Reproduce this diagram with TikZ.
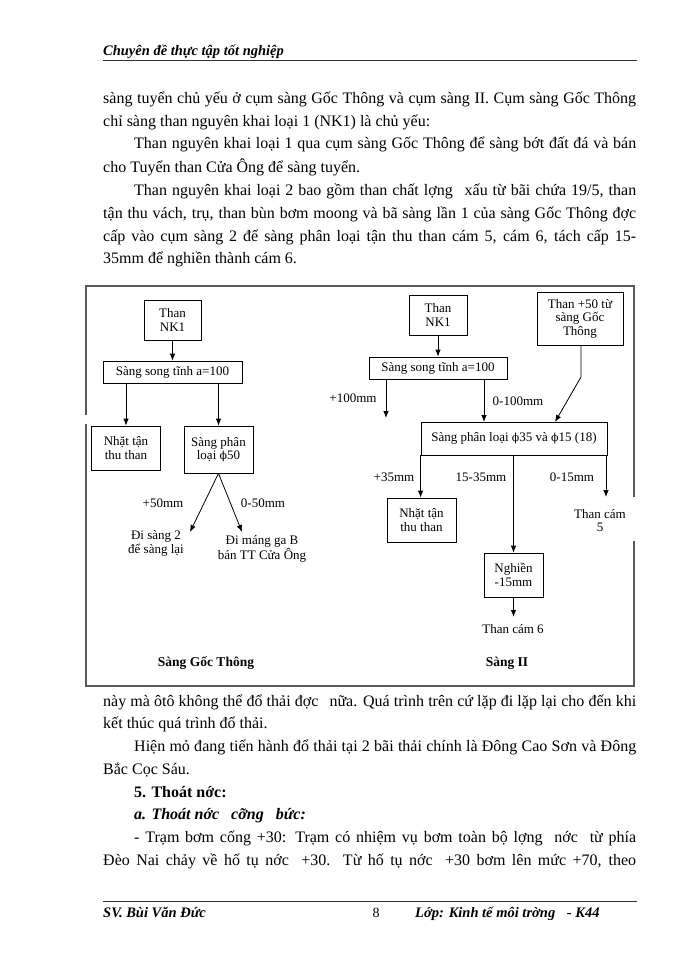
\documentclass[tikz,border=0pt]{standalone}
\usepackage{fontspec}
\setmainfont{Liberation Serif}
\newfontfamily\myphifont{DejaVu Serif}
\usetikzlibrary{arrows.meta}
\newcommand\mydiagfont{\fontsize{13}{13.5}\selectfont}
\newcommand\mybodyfont{\fontsize{16}{23}\selectfont}
\newcommand\myheadfont{\fontsize{14.5}{16}\selectfont\bfseries\itshape}
\newcommand\myphi{{\myphifont\fontsize{11}{12}\selectfont ϕ}}
\begin{document}
\begin{tikzpicture}[x=1pt,y=-1pt,
  box/.style={draw, line width=0.8pt, inner sep=0pt, align=center, font=\mydiagfont},
  lbl/.style={inner sep=0pt, align=center, font=\mydiagfont},
  arr/.style={line width=0.8pt, -{Latex[length=7pt,width=5.5pt]}},
  ln/.style={line width=0.8pt},
  framel/.style={line width=1.3pt, draw=black!65},
  body/.style={anchor=base west, inner sep=0pt, font=\mybodyfont},
  rule/.style={line width=0.9pt, draw=black!80},
]
\useasboundingbox[fill=white] (0,0) rectangle (700,960);

% header
\node[anchor=base west, inner sep=0pt, font=\myheadfont] (head) at (103,56) {Chuyên đề thực tập tốt nghiệp};
\coordinate (hr1) at (103,60); \coordinate (hr2) at (637,60);
\draw[rule] (hr1) -- (hr2);

% top text
\node[body] (t1) at (103,104) {\makebox[533pt][s]{sàng tuyển chủ yếu ở cụm sàng Gốc Thông và cụm sàng II. Cụm sàng Gốc Thông}};
\node[body] (t2) at (103,127) {chỉ sàng than nguyên khai loại 1 (NK1) là chủ yếu:};
\node[body] (t3) at (134,149) {\makebox[502pt][s]{Than nguyên khai loại 1 qua cụm sàng Gốc Thông để sàng bớt đất đá và bán}};
\node[body] (t4) at (103,172) {cho Tuyển than Cửa Ông để sàng tuyển.};
\node[body] (t5) at (134,195) {\makebox[502pt][s]{Than nguyên khai loại 2 bao gồm than chất lợng\hspace{7pt} xấu từ bãi chứa 19/5, than}};
\node[body] (t6) at (103,218) {\makebox[533pt][s]{tận thu vách, trụ, than bùn bơm moong và bã sàng lần 1 của sàng Gốc Thông đợc}};
\node[body] (t7) at (103,241) {\makebox[533pt][s]{cấp vào cụm sàng 2 để sàng phân loại tận thu than cám 5, cám 6, tách cấp 15-}};
\node[body] (t8) at (103,263) {35mm để nghiền thành cám 6.};

% frame
\coordinate (f1) at (86,286); \coordinate (f2) at (634,286);
\coordinate (f3) at (634,497); \coordinate (f4) at (634,541);
\coordinate (f5) at (634,686); \coordinate (f6) at (86,686);
\coordinate (f7) at (86,424); \coordinate (f8) at (86,415);
\draw[framel] (f8) -- (f1) -- (f2) -- (f3);
\draw[framel] (f4) -- (f5) -- (f6) -- (f7);

% left diagram
\node[box, minimum width=57pt, minimum height=40pt] (L1) at (172.5,320) {Than\\NK1};
\node[box, minimum width=139pt, minimum height=22pt] (L2) at (172.5,372) {Sàng song tĩnh a=100};
\node[box, minimum width=69pt, minimum height=44pt] (L3) at (126,448) {Nhặt tận\\thu than};
\node[box, minimum width=69pt, minimum height=47pt] (L4) at (218.5,449.5) {Sàng phân\\loại \myphi50};
\coordinate (L5) at (190,532);
\coordinate (L6) at (242,532);
\draw[arr] (L1) -- (L2);
\draw[arr] (L3.north |- L2.south) -- (L3.north);
\draw[arr] (L4.north |- L2.south) -- (L4.north);
\draw[arr] (L4.south) -- (L5);
\draw[arr] (L4.south) -- (L6);
\node[lbl] (l50a) at (163,503) {+50mm};
\node[lbl] (l50b) at (263,503) {0-50mm};
\node[lbl] (ldi1) at (156,543.5) {Đi sàng 2\\để sàng lại};
\node[lbl] (ldi2) at (262,548.5) {Đi máng ga B\\bán TT Cửa Ông};
\node[lbl, font=\fontsize{13.5}{15}\selectfont\bfseries] (lt) at (206,663) {Sàng Gốc Thông};

% right diagram
\node[box, minimum width=58pt, minimum height=40pt] (R1) at (438,315) {Than\\NK1};
\node[box, minimum width=138pt, minimum height=22pt] (R2) at (438,368) {Sàng song tĩnh a=100};
\node[box, minimum width=86pt, minimum height=53pt] (R3) at (580,318.5) {Than +50 từ\\sàng Gốc\\Thông};
\node[box, minimum width=186pt, minimum height=33pt] (R4) at (514,438.5) {Sàng phân loại \myphi35 và \myphi15 (18)};
\node[box, minimum width=69pt, minimum height=44pt] (R5) at (421.5,520) {Nhặt tận\\thu than};
\node[box, minimum width=59pt, minimum height=44pt] (R6) at (513.5,575) {Nghiền\\-15mm};
\coordinate (Rp) at (386,418);
\coordinate (Rq) at (484,422);
\coordinate (R3k) at (581,377);
\coordinate (R4k) at (555,422);
\coordinate (Rc5) at (606,497);
\coordinate (Rc6) at (513.5,617);
\draw[arr] (R1) -- (R2);
\draw[arr] (Rp |- R2.south) -- (Rp);
\draw[arr] (Rq |- R2.south) -- (Rq);
\draw[arr] (R3.south -| R3k) -- (R3k) -- (R4k);
\draw[arr] (R4.south west) -- (R4.south west |- R5.north);
\draw[arr] (R6.north |- R4.south) -- (R6.north);
\draw[arr] (Rc5 |- R4.south) -- (Rc5);
\draw[arr] (R6.south) -- (Rc6);
\node[lbl] (r100a) at (353,398) {+100mm};
\node[lbl] (r100b) at (518,401) {0-100mm};
\node[lbl] (r35a) at (394,477) {+35mm};
\node[lbl] (r35b) at (481,477) {15-35mm};
\node[lbl] (r15) at (572,477) {0-15mm};
\node[lbl] (rc5) at (600,520.5) {Than cám\\5};
\node[lbl] (rc6) at (513,629) {Than cám 6};
\node[lbl, font=\fontsize{13.5}{15}\selectfont\bfseries] (rt) at (507,663) {Sàng II};

% bottom text
\node[body] (b1) at (103,706) {\makebox[533pt][s]{này mà ôtô không thể đổ thải đợc\hspace{7pt} nữa. Quá trình trên cứ lặp đi lặp lại cho đến khi}};
\node[body] (b2) at (103,728) {kết thúc quá trình đổ thải.};
\node[body] (b3) at (134,751) {\makebox[502pt][s]{Hiện mỏ đang tiến hành đổ thải tại 2 bãi thải chính là Đông Cao Sơn và Đông}};
\node[body] (b4) at (103,774) {Bắc Cọc Sáu.};
\node[body] (b5) at (134,797) {\textbf{5. Thoát nớc:}};
\node[body] (b6) at (134,819) {\textbf{\textit{a. Thoát nớc\hspace{8pt} cỡng\hspace{8pt} bức:}}};
\node[body] (b7) at (134,842) {\makebox[502pt][s]{- Trạm bơm cống +30: Trạm có nhiệm vụ bơm toàn bộ lợng\hspace{6pt} nớc\hspace{6pt} từ phía}};
\node[body] (b8) at (103,865) {\makebox[533pt][s]{Đèo Nai chảy về hố tụ nớc\hspace{6pt} +30. Từ hố tụ nớc\hspace{6pt} +30 bơm lên mức +70, theo}};

% footer
\coordinate (fr1) at (103,901); \coordinate (fr2) at (637,901);
\draw[rule] (fr1) -- (fr2);
\node[anchor=base west, inner sep=0pt, font=\myheadfont] (foot1) at (103,917) {SV. Bùi Văn Đức};
\node[anchor=base, inner sep=0pt, font=\fontsize{14}{16}\selectfont] (foot2) at (376,917) {8};
\node[anchor=base west, inner sep=0pt, font=\myheadfont] (foot3) at (415,917) {Lớp: Kinh tế môi trờng\hspace{8pt} - K44};
\end{tikzpicture}
\end{document}
